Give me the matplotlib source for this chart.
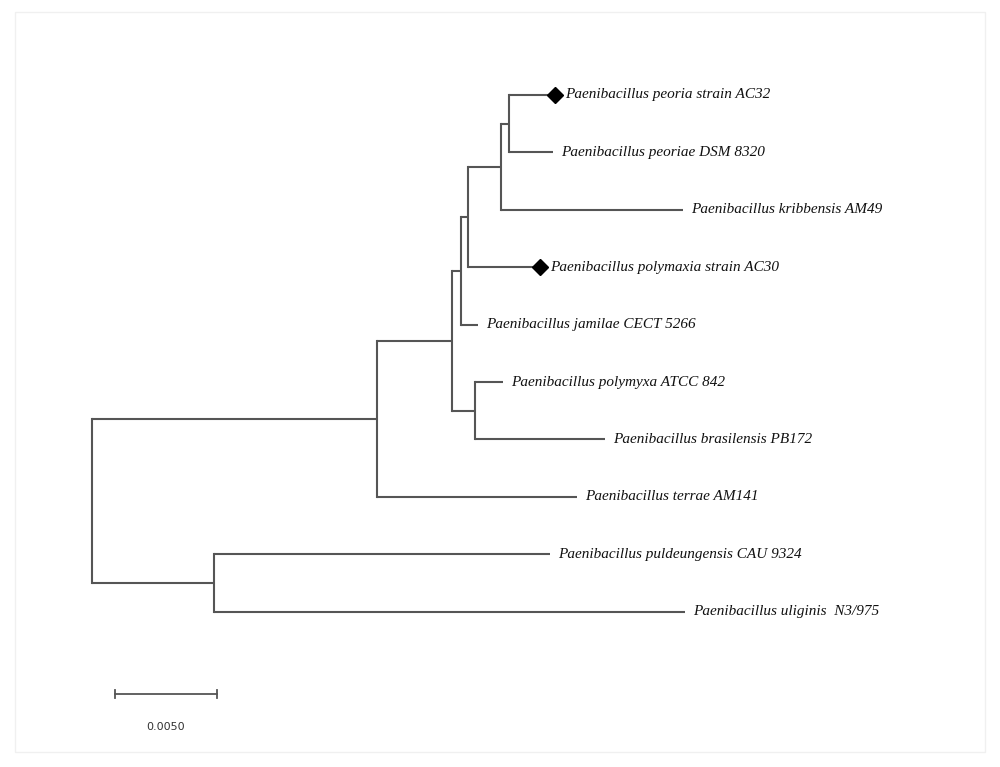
import matplotlib
matplotlib.use("Agg")
import matplotlib.pyplot as plt
from matplotlib.patches import Rectangle

# tip labels, top to bottom
tips = [
    "Paenibacillus peoria strain AC32",
    "Paenibacillus peoriae DSM 8320",
    "Paenibacillus kribbensis AM49",
    "Paenibacillus polymaxia strain AC30",
    "Paenibacillus jamilae CECT 5266",
    "Paenibacillus polymyxa ATCC 842",
    "Paenibacillus brasilensis PB172",
    "Paenibacillus terrae AM141",
    "Paenibacillus puldeungensis CAU 9324",
    "Paenibacillus uliginis  N3/975",
]
# tips marked with a diamond (isolates of this study)
marked = [0, 3]

# internal nodes: name -> (children, branch lengths to children)
nodes = {
    "root": (["G", "H"], [0.01397, 0.00598]),
    "G": (["E", 7], [0.00368, 0.00980]),
    "E": (["D", "F"], [0.00044, 0.00113]),
    "D": (["C", 4], [0.00034, 0.00083]),
    "C": (["B", 3], [0.00162, 0.00353]),
    "B": (["A", 2], [0.00039, 0.00892]),
    "A": ([0, 1], [0.00225, 0.00216]),
    "F": ([5, 6], [0.00137, 0.00637]),
    "H": ([8, 9], [0.01647, 0.02309]),
}

scale_len = 0.005
scale_label = "0.0050"

line_col = "#555555"

fig = plt.figure(figsize=(10, 7.67), dpi=100)
ax = fig.add_axes([0, 0, 1, 1])
ax.set_xlim(-0.00451, 0.04451)
ax.set_ylim(11.707, -1.655)
ax.axis("off")

tip_x = {}


def draw(node, x):
    # returns y of node, draws its subtree starting at depth x
    if isinstance(node, int):
        tip_x[node] = x
        return node
    kids, lens = nodes[node]
    ys = []
    for kid, bl in zip(kids, lens):
        y = draw(kid, x + bl)
        ax.plot([x, x + bl], [y, y], color=line_col, lw=1.5, solid_capstyle="butt")
        ys.append(y)
    ax.plot([x, x], [min(ys), max(ys)], color=line_col, lw=1.5, solid_capstyle="projecting")
    return (min(ys) + max(ys)) / 2


draw("root", 0.0)

for i, name in enumerate(tips):
    off = 6
    if i in marked:
        ax.plot(tip_x[i], i, marker="D", ms=8, color="black", zorder=5)
        off = 7.5
    ax.annotate(name, (tip_x[i], i), xytext=(off, 0), textcoords="offset points",
                ha="left", va="center", fontsize=11, style="italic",
                family="Liberation Serif", color="#111111")

# scale bar
sx0 = 0.00113
sy = 10.435
ax.plot([sx0, sx0 + scale_len], [sy, sy], color=line_col, lw=1.3)
for sx in (sx0, sx0 + scale_len):
    ax.plot([sx, sx], [sy - 0.07, sy + 0.07], color=line_col, lw=1.3)
ax.text(sx0 + scale_len / 2, 11.01, scale_label, ha="center", va="center",
        fontsize=8, family="Liberation Sans Narrow", color="#333333")

# faint frame around the picture
fig.patches.append(Rectangle((0.015, 0.02), 0.97, 0.965, transform=fig.transFigure,
                             fill=False, ec="#f0f0f0", lw=1))

fig.savefig("out.png", dpi=100)
